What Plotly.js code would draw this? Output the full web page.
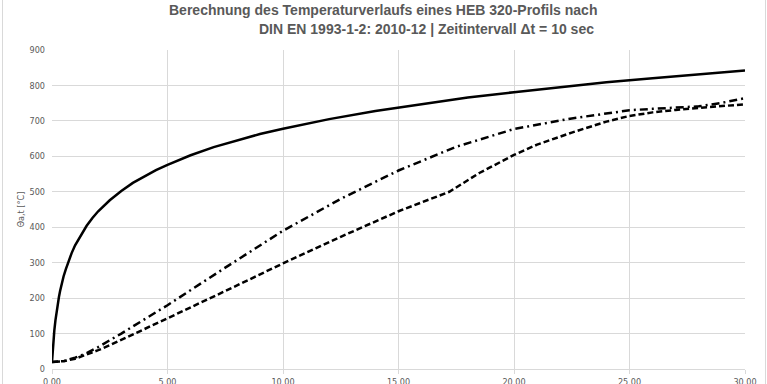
<!DOCTYPE html>
<html>
<head>
<meta charset="utf-8">
<script src="https://cdn.plot.ly/plotly-3.0.1.min.js"></script>
<style>
html,body{margin:0;padding:0;background:#fff;}
#wrap{position:relative;width:767px;height:384px;overflow:hidden;}
#chart{width:767px;height:384px;}
#frame{position:absolute;left:2px;top:-2px;width:762px;height:390px;border:1px solid #d9d9d9;pointer-events:none;}
</style>
</head>
<body>
<div id="wrap"><div id="chart"></div><div id="frame"></div></div>
<script>
// Time in minutes
const tGas = [0,0.02,0.05,0.1,0.15,0.2,0.25,0.3,0.35,0.4,0.5,0.6,0.75,0.85,1,1.25,1.5,1.75,2,2.5,3,3.5,4,4.5,5,6,7,8,9,10,12,14,16,18,20,22,24,26,28,30];
const gasTemp = [20,42,70,108,138,163,185,203,220,235,261,282,312,327,349,378,404,426,445,476,502,525,544,561,576,603,626,645,663,678,705,728,748,766,781,796,809,820,831,842];

const tDashDot = [0,0.5,1,1.5,2,2.5,3,4,5,7.5,10,12.5,15,17.5,20,22.5,24,25,26,27,28,29,30];
const dashDotTemp = [20,22,32,45,62,80,100,140,180,286,390,480,560,627,677,707,722,730,734,737,741,751,764];

const tDashed = [0,0.5,1,1.5,2,2.5,3,4,5,7.5,10,12.5,15,17.2,18.5,20,21,22.5,24,25,26,27,28,29,30];
const dashedTemp = [20,22,29,40,53,67,82,112,143,220,298,373,445,500,553,604,633,667,698,714,724,731,737,742,747];

const xTicks = [0,5,10,15,20,25,30];
const xTickText = ["0.00","5.00","10.00","15.00","20.00","25.00","30.00"];
const yTicks = [0,100,200,300,400,500,600,700,800,900];

const titleLine1 = "Berechnung des Temperaturverlaufs eines HEB 320-Profils nach";
const titleLine2 = "DIN EN 1993-1-2: 2010-12 | Zeitintervall \u0394t = 10 sec";
const yTitle = "\u0398a,t [°C]";

const tickFont = {family:"Liberation Sans Narrow, DejaVu Sans Condensed, Arial Narrow, sans-serif", size:9, color:"#595959"};
const titleFont = {family:"Liberation Sans, Arial, sans-serif", size:14, color:"#595959"};

const traces = [
  {x:tGas, y:gasTemp, mode:"lines", line:{color:"#000", width:2.5}, hoverinfo:"skip"},
  {x:tDashDot, y:dashDotTemp, mode:"lines", line:{color:"#000", width:2.5, dash:"8px,4px,2px,4px"}, hoverinfo:"skip"},
  {x:tDashed, y:dashedTemp, mode:"lines", line:{color:"#000", width:2.5, dash:"6px,3px"}, hoverinfo:"skip"}
];

const layout = {
  width:767, height:384,
  margin:{l:52, r:22, t:50, b:15},
  paper_bgcolor:"#fff", plot_bgcolor:"#fff",
  showlegend:false,
  xaxis:{
    range:[0,30], tickvals:xTicks, ticktext:xTickText,
    showgrid:true, gridcolor:"#d9d9d9", gridwidth:1,
    zeroline:false, showline:true, linecolor:"#d9d9d9", linewidth:1,
    ticks:"outside", ticklen:4, tickcolor:"#d9d9d9",
    tickfont:tickFont
  },
  yaxis:{
    range:[0,900], tickvals:yTicks,
    showgrid:true, gridcolor:"#d9d9d9", gridwidth:1,
    zeroline:false, showline:false, ticks:"", ticklabelstandoff:6,
    tickfont:tickFont,
    title:{text:yTitle, font:tickFont, standoff:3}
  },
  annotations:[
    {xref:"paper", yref:"paper", x:(383-52)/693, y:1+(50-10)/319, xanchor:"center", yanchor:"middle",
     text:"<b>"+titleLine1+"</b>", showarrow:false, font:titleFont},
    {xref:"paper", yref:"paper", x:(426-52)/693, y:1+(50-29)/319, xanchor:"center", yanchor:"middle",
     text:"<b>"+titleLine2+"</b>", showarrow:false, font:titleFont}
  ]
};

Plotly.newPlot("chart", traces, layout, {displayModeBar:false, staticPlot:true});
</script>
</body>
</html>
